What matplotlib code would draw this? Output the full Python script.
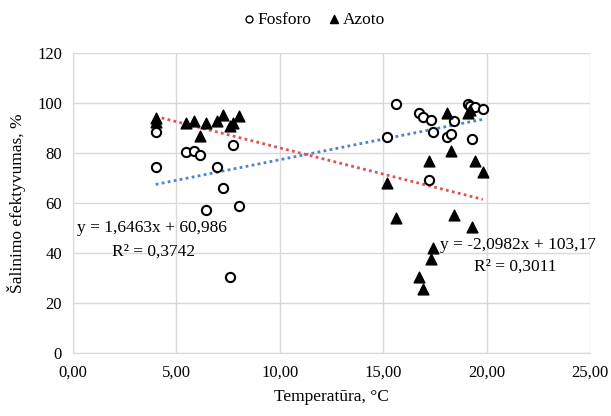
import matplotlib.pyplot as plt
import numpy as np

# temperatura, ta pati abiem serijoms
temp = [4.0, 4.0, 5.47, 5.87, 6.16, 6.45, 6.97, 7.27, 7.58, 7.76, 8.02,
        15.18, 15.61, 16.71, 16.92, 17.22, 17.29, 17.40, 18.11, 18.30, 18.43,
        19.12, 19.22, 19.32, 19.46, 19.82]
fosforo = [88.5, 74.6, 80.4, 80.9, 79.3, 57.3, 74.4, 66.0, 30.7, 83.3, 59.1,
           86.4, 99.6, 96.0, 94.6, 69.2, 93.2, 88.4, 86.4, 87.6, 92.9,
           99.6, 98.9, 85.8, 98.5, 97.6]
azoto = [94.0, 92.5, 92.0, 92.9, 87.0, 92.3, 92.9, 95.3, 90.9, 92.3, 94.9,
         68.3, 54.3, 30.6, 25.8, 76.9, 37.7, 42.3, 96.0, 80.9, 55.3,
         96.3, 97.2, 50.7, 76.9, 72.5]

# tendencijos linijos (Excel)
p_slope, p_icpt, p_r2 = 1.6463, 60.986, 0.3742
n_slope, n_icpt, n_r2 = -2.0982, 103.17, 0.3011

x_ticks = [0, 5, 10, 15, 20, 25]
y_ticks = [0, 20, 40, 60, 80, 100, 120]

plt.rcParams['font.family'] = ['Liberation Serif', 'DejaVu Serif']
plt.rcParams['font.size'] = 12

fig = plt.figure(figsize=(6.11, 4.16), dpi=100)
ax = fig.add_axes([0.1195, 0.1507, 0.846, 0.721])

grid_c = '#d9d9d9'
ax.set_xlim(0, 25)
ax.set_ylim(0, 120)
ax.set_xticks(x_ticks)
ax.set_xticklabels([f"{t:.2f}".replace(".", ",") for t in x_ticks])
ax.set_yticks(y_ticks)
ax.grid(True, color=grid_c, linewidth=1)
ax.set_axisbelow(True)
for s in ax.spines.values():
    s.set_visible(False)
ax.spines['left'].set_visible(True)
ax.spines['bottom'].set_visible(True)
ax.spines['left'].set_color(grid_c)
ax.spines['bottom'].set_color(grid_c)
ax.tick_params(length=0, pad=8, labelsize=12)

xr = np.array([min(temp), max(temp)])
ax.plot(xr, p_slope * xr + p_icpt, color='#4F81D0', linestyle=(0, (1, 1.2)), linewidth=2)
ax.plot(xr, n_slope * xr + n_icpt, color='#E05252', linestyle=(0, (1, 1.2)), linewidth=2)

ax.scatter(temp, fosforo, s=44, facecolors='white', edgecolors='black', linewidths=1.5,
           label="Fosforo", zorder=3)
ax.scatter(temp, azoto, s=60, marker='^', color='black', label="Azoto", zorder=3)

ax.text(0.19, 50.1, "y = 1,6463x + 60,986", va='center', ha='left', fontsize=12.5)
ax.text(1.9, 40.6, "R² = 0,3742", va='center', ha='left', fontsize=12.5)
ax.text(17.76, 43.3, "y = -2,0982x + 103,17", va='center', ha='left', fontsize=12.5)
ax.text(19.4, 34.5, "R² = 0,3011", va='center', ha='left', fontsize=12.5)

ax.set_xlabel("Temperatūra, °C", fontsize=12.5, labelpad=6)
ax.set_ylabel("Šalinimo efektyvumas, %", fontsize=12.5, labelpad=8)

leg = fig.legend(loc='upper center', bbox_to_anchor=(0.515, 1.01), ncol=2, frameon=False,
                 handlelength=0.6, handletextpad=0.2, columnspacing=1.0,
                 markerscale=0.75, fontsize=12.5)
for h in leg.legend_handles:
    h.set_linewidth(1)

fig.savefig("out.png", dpi=100)
